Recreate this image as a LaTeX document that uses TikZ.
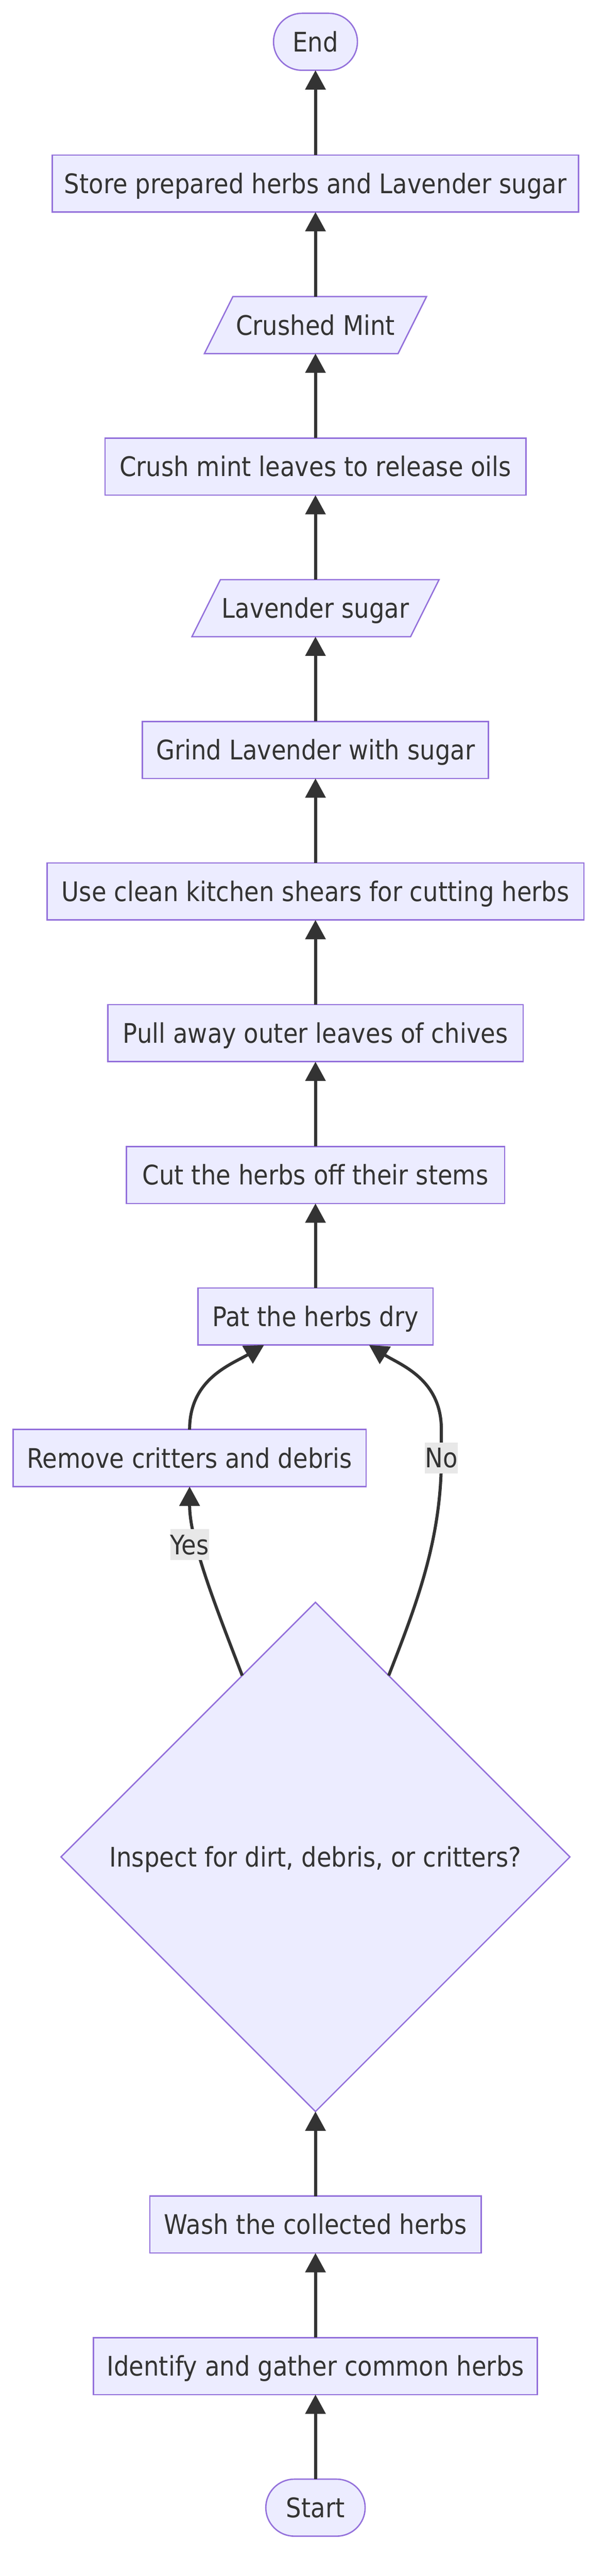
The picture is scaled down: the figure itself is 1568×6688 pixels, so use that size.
\documentclass[tikz,border=0pt]{standalone}
\usepackage{fontspec}
\setmainfont{DejaVu Sans}[FakeStretch=0.89]
\usetikzlibrary{arrows.meta,shapes.geometric,calc}
\pgfdeclarelayer{bglayer}
\pgfsetlayers{bglayer,main}
\definecolor{nodefill}{HTML}{ECECFF}
\definecolor{nodeline}{HTML}{9370DB}
\definecolor{edgecol}{HTML}{333333}
\definecolor{labfill}{HTML}{E8E8E8}
\definecolor{txtcol}{HTML}{333333}
\begin{document}
\begin{tikzpicture}[x=1pt,y=-1pt,
  txtbase/.style={inner sep=0pt, outer sep=0pt, text=txtcol,
    font=\fontsize{70}{84}\selectfont, text height=51pt, text depth=0pt},
  procbox/.style={txtbase, draw=nodeline, fill=nodefill, line width=3.5pt, minimum height=148pt},
  termbox/.style={procbox, rounded corners=74pt},
  iobox/.style={txtbase, minimum height=148pt},
  ioshape/.style={draw=nodeline, fill=nodefill, line width=3.5pt, line join=miter},
  decbox/.style={txtbase, shape=diamond, draw=nodeline, fill=nodefill, line width=3.5pt,
    minimum width=1322pt, minimum height=1322pt},
  conn/.style={draw=edgecol, line width=8pt, -{Triangle[length=50pt,width=52pt]}},
  edgelab/.style={txtbase, fill=labfill, minimum height=80pt}
]
\useasboundingbox (0,0) rectangle (1568,6688);

% nodes
\node[termbox, minimum width=218pt] (endn) at (819.5,108.5) {End};
\node[procbox, minimum width=1367pt] (store) at (819.5,476.5) {Store prepared herbs and Lavender sugar};
\node[iobox, minimum width=503pt] (cmint) at (819.5,844) {Crushed Mint};
\node[procbox, minimum width=1093pt] (crush) at (819.5,1211.5) {Crush mint leaves to release oils};
\node[iobox, minimum width=568pt] (lav) at (819.5,1579) {Lavender sugar};
\node[procbox, minimum width=899pt] (grind) at (819.5,1947) {Grind Lavender with sugar};
\node[procbox, minimum width=1395pt] (clean) at (819.5,2314.5) {Use clean kitchen shears for cutting herbs};
\node[procbox, minimum width=1079pt] (pull) at (819.5,2682.5) {Pull away outer leaves of chives};
\node[procbox, minimum width=983pt] (cut) at (819.5,3050.5) {Cut the herbs off their stems};
\node[procbox, minimum width=611pt] (pat) at (819.5,3418) {Pat the herbs dry};
\node[procbox, minimum width=917pt] (remove) at (492.5,3785.5) {Remove critters and debris};
\node[decbox] (insp) at (819.5,4821) {Inspect for dirt, debris, or critters?};
\node[procbox, minimum width=861pt] (wash) at (819.5,5775.5) {Wash the collected herbs};
\node[procbox, minimum width=1153pt] (ident) at (819.5,6143) {Identify and gather common herbs};
\node[termbox, minimum width=258pt] (start) at (819.5,6510.5) {Start};

% background and parallelogram outlines
\begin{pgfonlayer}{bglayer}
\fill[white] (0,0) rectangle (1568,6688);
\filldraw[ioshape] ([xshift=37pt]cmint.north west) -- ([xshift=37pt]cmint.north east)
  -- ([xshift=-37pt]cmint.south east) -- ([xshift=-37pt]cmint.south west) -- cycle;
\filldraw[ioshape] ([xshift=37pt]lav.north west) -- ([xshift=37pt]lav.north east)
  -- ([xshift=-37pt]lav.south east) -- ([xshift=-37pt]lav.south west) -- cycle;
\end{pgfonlayer}

% straight connectors
\draw[conn] (start.north) -- (ident.south);
\draw[conn] (ident.north) -- (wash.south);
\draw[conn] (wash.north) -- (insp.south);
\draw[conn] (pat.north) -- (cut.south);
\draw[conn] (cut.north) -- (pull.south);
\draw[conn] (pull.north) -- (clean.south);
\draw[conn] (clean.north) -- (grind.south);
\draw[conn] (grind.north) -- (lav.south);
\draw[conn] (lav.north) -- (crush.south);
\draw[conn] (crush.north) -- (cmint.south);
\draw[conn] (cmint.north) -- (store.south);
\draw[conn] (store.north) -- (endn.south);

% curved connectors
\draw[conn] (insp.112) .. controls (560,4170) and (492.5,4000) .. (remove.south);
\draw[conn] (insp.68) .. controls (1080,4170) and (1146.5,4000) .. (1146.5,3785)
  -- (1146.5,3711) .. controls (1146.5,3580) and (1039,3543) .. (pat.-28.6);
\draw[conn] (remove.north) .. controls (492.5,3580) and (600,3543) .. (pat.-151.4);

% edge labels
\node[edgelab, minimum width=99pt] (yes) at (492.5,4010) {Yes};
\node[edgelab, minimum width=83pt] (no) at (1146.5,3785) {No};
\end{tikzpicture}
\end{document}
